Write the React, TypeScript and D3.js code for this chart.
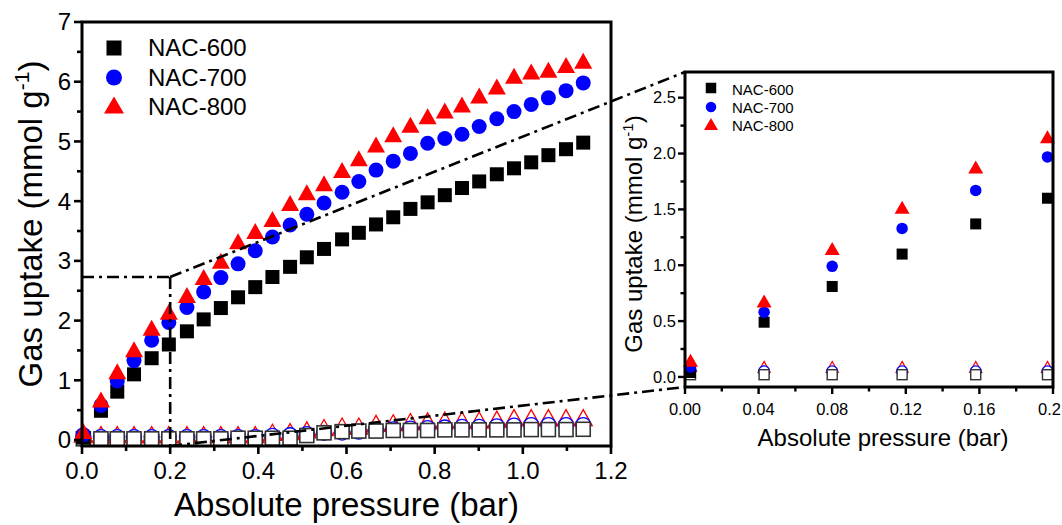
import React from 'react';
import * as d3 from 'd3';

// ---------- data ----------
const pressure = [0.003, 0.043, 0.080, 0.118, 0.158, 0.197, 0.238, 0.276, 0.315, 0.354, 0.393, 0.432, 0.472, 0.510, 0.549, 0.590, 0.628, 0.667, 0.706, 0.745, 0.784, 0.823, 0.862, 0.901, 0.941, 0.980, 1.019, 1.058, 1.098, 1.137];

// filled symbols
const nac600 = [0.04, 0.49, 0.81, 1.10, 1.37, 1.60, 1.82, 2.02, 2.21, 2.39, 2.56, 2.73, 2.90, 3.06, 3.20, 3.36, 3.47, 3.61, 3.73, 3.87, 3.98, 4.10, 4.22, 4.33, 4.45, 4.55, 4.65, 4.77, 4.87, 4.98];
const nac700 = [0.09, 0.58, 0.99, 1.33, 1.67, 1.97, 2.22, 2.48, 2.72, 2.95, 3.17, 3.40, 3.60, 3.78, 3.97, 4.15, 4.33, 4.52, 4.67, 4.80, 4.97, 5.05, 5.12, 5.25, 5.38, 5.50, 5.62, 5.73, 5.85, 5.98];
const nac800 = [0.15, 0.68, 1.15, 1.52, 1.88, 2.15, 2.43, 2.73, 3.00, 3.33, 3.50, 3.70, 3.97, 4.15, 4.30, 4.52, 4.72, 4.95, 5.12, 5.28, 5.42, 5.52, 5.62, 5.77, 5.92, 6.10, 6.17, 6.20, 6.28, 6.35];

// open symbols
const nac600Open = [0.02, 0.02, 0.02, 0.02, 0.02, 0.02, 0.02, 0.02, 0.02, 0.03, 0.03, 0.03, 0.03, 0.075, 0.12, 0.14, 0.15, 0.15, 0.16, 0.16, 0.16, 0.17, 0.17, 0.17, 0.17, 0.17, 0.175, 0.175, 0.175, 0.18];
const nac700Open = [0.06, 0.05, 0.05, 0.05, 0.05, 0.05, 0.05, 0.05, 0.05, 0.05, 0.05, 0.07, 0.08, 0.10, 0.12, 0.125, 0.14, 0.17, 0.18, 0.19, 0.20, 0.21, 0.22, 0.22, 0.23, 0.24, 0.25, 0.25, 0.25, 0.25];
const nac800Open = [0.10, 0.09, 0.09, 0.09, 0.09, 0.09, 0.09, 0.09, 0.09, 0.09, 0.09, 0.13, 0.14, 0.17, 0.21, 0.235, 0.235, 0.28, 0.29, 0.31, 0.32, 0.335, 0.335, 0.335, 0.35, 0.375, 0.375, 0.375, 0.375, 0.375];

const seriesNames = ['NAC-600', 'NAC-700', 'NAC-800'];
const seriesColors = ['#000000', '#0000ff', '#ff0000'];

const mainXTicks = [0, 0.2, 0.4, 0.6, 0.8, 1.0, 1.2];
const mainXMinor = [0.1, 0.3, 0.5, 0.7, 0.9, 1.1];
const mainYTicks = [0, 1, 2, 3, 4, 5, 6, 7];
const mainYMinor = [0.5, 1.5, 2.5, 3.5, 4.5, 5.5, 6.5];
const insetXTicks = [0, 0.04, 0.08, 0.12, 0.16, 0.2];
const insetXLabels = ['0.00', '0.04', '0.08', '0.12', '0.16', '0.2'];
const insetXMinor = [0.02, 0.06, 0.1, 0.14, 0.18];
const insetYTicks = [0, 0.5, 1.0, 1.5, 2.0, 2.5];
const insetYMinor = [0.25, 0.75, 1.25, 1.75, 2.25];

const zoomX = 0.2;
const zoomY = 2.73;

const FONT = '"Liberation Sans", Arial, Helvetica, sans-serif';
const DASH = '12,5,3,5';

type Shape = 'square' | 'circle' | 'triangle';

function Marker({ shape, cx, cy, s, fill, stroke, sw, tw, th }: { shape: Shape; cx: number; cy: number; s: number; fill: string; stroke?: string; sw?: number; tw?: number; th?: number }) {
  if (shape === 'square') {
    return <rect x={cx - s / 2} y={cy - s / 2} width={s} height={s} fill={fill} stroke={stroke || 'none'} strokeWidth={sw || 0} />;
  }
  if (shape === 'circle') {
    return <circle cx={cx} cy={cy} r={s / 2} fill={fill} stroke={stroke || 'none'} strokeWidth={sw || 0} />;
  }
  const w = tw || s;
  const h = th || s;
  const d = `M${cx},${cy - h / 2}L${cx + w / 2},${cy + h / 2}L${cx - w / 2},${cy + h / 2}Z`;
  return <path d={d} fill={fill} stroke={stroke || 'none'} strokeWidth={sw || 0} strokeLinejoin="miter" />;
}

export default function App() {
  const x = d3.scaleLinear().domain([0, 1.2]).range([82, 611]);
  const y = d3.scaleLinear().domain([-0.1, 7]).range([446, 22]);
  const xi = d3.scaleLinear().domain([0, 0.2]).range([685, 1053]);
  const yi = d3.scaleLinear().domain([-0.09, 2.73]).range([387, 72]);

  const filled = [nac600, nac700, nac800];
  const open = [nac600Open, nac700Open, nac800Open];
  const shapes: Shape[] = ['square', 'circle', 'triangle'];

  const insetIdx = pressure.map((p, i) => i).filter((i) => pressure[i] <= 0.2);

  const fmt1 = d3.format('.1f');

  return (
    <svg width={1062} height={525} style={{ position: 'absolute', left: 0, top: 0, background: '#fff' }} fontFamily={FONT}>
      <rect x={0} y={0} width={1062} height={525} fill="#fff" />

      {/* ---------- main plot: open symbols ---------- */}
      {[2, 1, 0].map((k) =>
        pressure.map((p, i) => (
          <Marker key={`mo${k}-${i}`} shape={shapes[k]} cx={x(p)} cy={y(open[k][i])}
            s={k === 0 ? 14 : 15} tw={18} th={16} fill="#fff"
            stroke={k === 0 ? '#333' : seriesColors[k]} sw={k === 0 ? 1.6 : 1.3} />
        ))
      )}
      {/* ---------- main plot: filled symbols ---------- */}
      {[0, 1, 2].map((k) =>
        pressure.map((p, i) => (
          <Marker key={`mf${k}-${i}`} shape={shapes[k]} cx={x(p)} cy={y(filled[k][i])}
            s={k === 0 ? 14 : 15} tw={18} th={16} fill={seriesColors[k]} />
        ))
      )}

      {/* ---------- zoom guide lines ---------- */}
      <g stroke="#000" strokeWidth={2.6} strokeDasharray={DASH} fill="none">
        <line x1={x(0)} y1={y(zoomY)} x2={x(zoomX)} y2={y(zoomY)} />
        <line x1={x(zoomX)} y1={y(zoomY)} x2={x(zoomX)} y2={y(-0.1)} />
        <line x1={x(zoomX)} y1={y(zoomY)} x2={xi(0)} y2={yi(2.73)} />
        <line x1={x(zoomX)} y1={y(-0.1)} x2={xi(0)} y2={yi(-0.09)} />
      </g>

      {/* ---------- main axes ---------- */}
      <rect x={x(0)} y={y(7)} width={x(1.2) - x(0)} height={y(-0.1) - y(7)} fill="none" stroke="#000" strokeWidth={3} />
      <g stroke="#000" strokeWidth={2.6}>
        {mainXTicks.map((t) => <line key={`mxt${t}`} x1={x(t)} x2={x(t)} y1={y(-0.1)} y2={y(-0.1) + 8} />)}
        {mainXMinor.map((t) => <line key={`mxm${t}`} x1={x(t)} x2={x(t)} y1={y(-0.1)} y2={y(-0.1) + 5} />)}
        {mainYTicks.map((t) => <line key={`myt${t}`} x1={x(0) - 8} x2={x(0)} y1={y(t)} y2={y(t)} />)}
        {mainYMinor.map((t) => <line key={`mym${t}`} x1={x(0) - 5} x2={x(0)} y1={y(t)} y2={y(t)} />)}
      </g>
      <g fontSize={24} fill="#000">
        {mainXTicks.map((t) => <text key={`mxl${t}`} x={x(t)} y={479} textAnchor="middle">{fmt1(t)}</text>)}
        {mainYTicks.map((t) => <text key={`myl${t}`} x={71} y={y(t)} dy="0.35em" textAnchor="end">{String(t)}</text>)}
      </g>
      <text x={(x(0) + x(1.2)) / 2} y={516} textAnchor="middle" fontSize={33}>Absolute pressure (bar)</text>
      <text transform="translate(42,224) rotate(-90)" textAnchor="middle" fontSize={33}>
        Gas uptake (mmol g<tspan dy={-13} fontSize={21}>-1</tspan><tspan dy={13}>)</tspan>
      </text>

      {/* main legend */}
      {seriesNames.map((n, k) => {
        const cy = [48, 77.5, 105][k];
        return (
          <g key={`ml${k}`}>
            <Marker shape={shapes[k]} cx={114} cy={cy} s={k === 0 ? 15 : 16} tw={20} th={17} fill={seriesColors[k]} />
            <text x={148} y={[56, 86, 115][k]} fontSize={24}>{n}</text>
          </g>
        );
      })}

      {/* ---------- inset ---------- */}
      {[2, 1, 0].map((k) =>
        insetIdx.map((i) => (
          <Marker key={`io${k}-${i}`} shape={shapes[k]} cx={xi(pressure[i])} cy={yi(open[k][i])}
            s={k === 0 ? 10 : 11} tw={12} th={11} fill="#fff"
            stroke={k === 0 ? '#333' : seriesColors[k]} sw={k === 0 ? 1.4 : 1.2} />
        ))
      )}
      {[0, 1, 2].map((k) =>
        insetIdx.map((i) => (
          <Marker key={`if${k}-${i}`} shape={shapes[k]} cx={xi(pressure[i])} cy={yi(filled[k][i])}
            s={k === 0 ? 11 : 11.5} tw={15} th={13} fill={seriesColors[k]} />
        ))
      )}
      <rect x={xi(0)} y={yi(2.73)} width={xi(0.2) - xi(0)} height={yi(-0.09) - yi(2.73)} fill="none" stroke="#000" strokeWidth={3} />
      <g stroke="#000" strokeWidth={2.4}>
        {insetXTicks.map((t) => <line key={`ixt${t}`} x1={xi(t)} x2={xi(t)} y1={yi(-0.09)} y2={yi(-0.09) + 7} />)}
        {insetXMinor.map((t) => <line key={`ixm${t}`} x1={xi(t)} x2={xi(t)} y1={yi(-0.09)} y2={yi(-0.09) + 4.5} />)}
        {insetYTicks.map((t) => <line key={`iyt${t}`} x1={xi(0) - 7} x2={xi(0)} y1={yi(t)} y2={yi(t)} />)}
        {insetYMinor.map((t) => <line key={`iym${t}`} x1={xi(0) - 4.5} x2={xi(0)} y1={yi(t)} y2={yi(t)} />)}
      </g>
      <g fontSize={16.5} fill="#000">
        {insetXTicks.map((t, j) => {
          const last = j === insetXTicks.length - 1;
          return (
            <text key={`ixl${t}`} x={last ? 1061 : xi(t)} y={415} textAnchor={last ? 'end' : 'middle'}>{insetXLabels[j]}</text>
          );
        })}
        {insetYTicks.map((t) => <text key={`iyl${t}`} x={676} y={yi(t)} dy="0.35em" textAnchor="end">{fmt1(t)}</text>)}
      </g>
      <text x={883} y={446} textAnchor="middle" fontSize={24}>Absolute pressure (bar)</text>
      <text transform="translate(642,234) rotate(-90)" textAnchor="middle" fontSize={24}>
        Gas uptake (mmol g<tspan dy={-9} fontSize={15}>-1</tspan><tspan dy={9}>)</tspan>
      </text>
      {seriesNames.map((n, k) => {
        const cy = [88, 107, 124][k];
        return (
          <g key={`il${k}`}>
            <Marker shape={shapes[k]} cx={711} cy={cy} s={10.5} tw={14} th={12} fill={seriesColors[k]} />
            <text x={732} y={[95, 113, 131][k]} fontSize={15}>{n}</text>
          </g>
        );
      })}
    </svg>
  );
}
